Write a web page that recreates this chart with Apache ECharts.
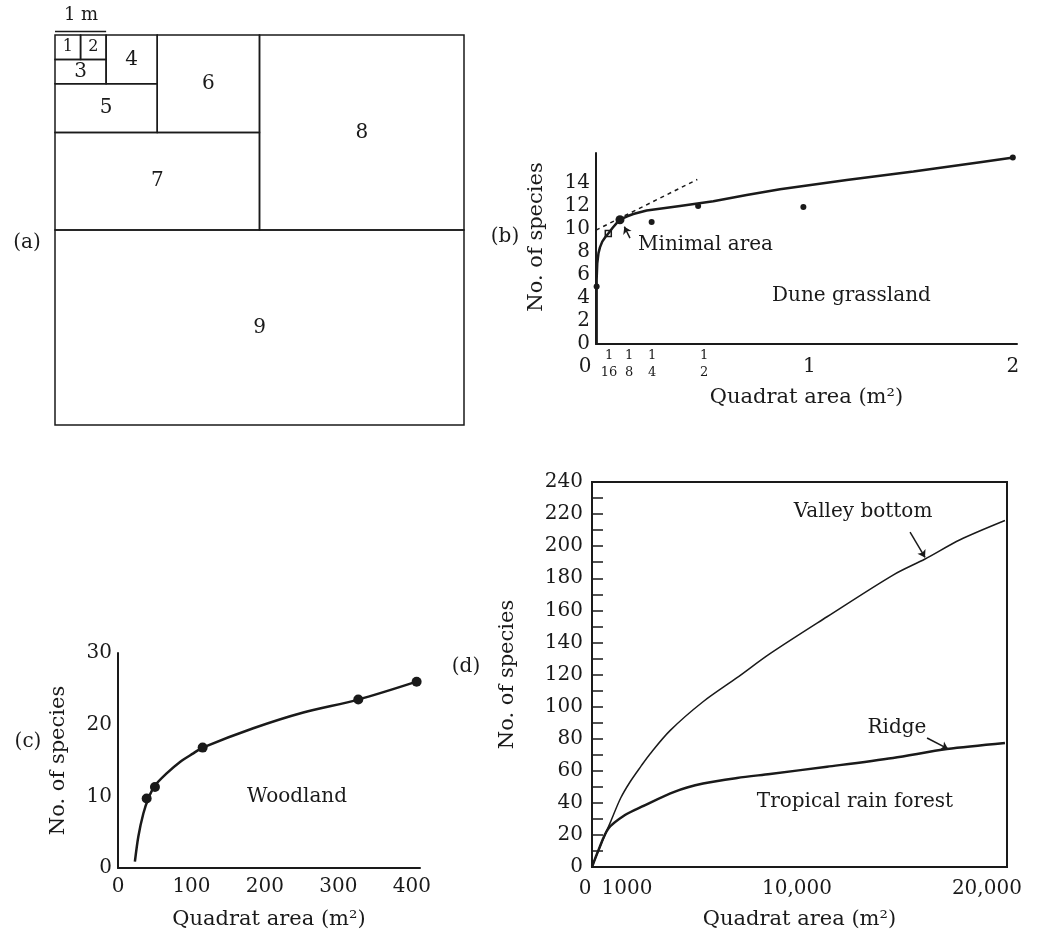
<!DOCTYPE html>
<html>
<head>
<meta charset="utf-8">
<script src="https://cdn.jsdelivr.net/npm/echarts@6/dist/echarts.min.js"></script>
<style>
  html, body { margin: 0; padding: 0; background: #fff; }
  #main { width: 1038px; height: 936px; }
</style>
</head>
<body>
<div id="main"></div>
<script>
// (a) nested quadrats, in metres: [x0, y0, x1, y1]
var quadrats = [
  [0, 0, 0.5, 0.5], [0.5, 0, 1, 0.5], [0, 0.5, 1, 1], [1, 0, 2, 1],
  [0, 1, 2, 2], [2, 0, 4, 2], [0, 2, 4, 4], [4, 0, 8, 4], [0, 4, 8, 8]
];
var quadratNames = ['1', '2', '3', '4', '5', '6', '7', '8', '9'];
var scaleBar = [0, 1];

// (b) dune grassland
var duneCurveX = [0.003, 0.003, 0.006, 0.012, 0.019, 0.03, 0.045, 0.059, 0.08, 0.099, 0.115, 0.15, 0.179, 0.243, 0.403, 0.563, 0.723, 0.883, 1.203, 1.523, 1.843, 2.003];
var duneCurveY = [0, 5.6, 7.0, 7.9, 8.4, 8.9, 9.3, 9.6, 10.1, 10.5, 10.8, 11.1, 11.3, 11.6, 12.0, 12.4, 12.95, 13.45, 14.25, 15.0, 15.8, 16.2];
var duneObsX = [0.003, 0.059, 0.115, 0.267, 0.49, 0.995, 2.0];
var duneObsY = [5, 9.6, 10.8, 10.6, 12.0, 11.9, 16.2];
var tangentX = [0, 0.486];
var tangentY = [9.9, 14.3];
var duneXTicks = [0, 1 / 16, 1 / 8, 1 / 4, 1 / 2, 1, 2];
var duneXTickLabels = ['0', '1/16', '1/8', '1/4', '1/2', '1', '2'];
var duneYTicks = [0, 2, 4, 6, 8, 10, 12, 14];

// (c) woodland
var woodCurveX = [23, 27.7, 34.5, 41.3, 50.3, 66.2, 84.4, 102.5, 115.2, 184.1, 252.2, 327, 406.4];
var woodCurveY = [0.9, 4.4, 7.6, 9.7, 11.5, 13.2, 14.8, 16.0, 16.8, 19.5, 21.7, 23.5, 26.0];
var woodObsX = [39, 50.3, 115.2, 327, 406.4];
var woodObsY = [9.7, 11.3, 16.8, 23.5, 26.0];
var woodXTicks = [0, 100, 200, 300, 400];
var woodYTicks = [0, 10, 20, 30];

// (d) tropical rain forest
var valleyX = [0, 400, 900, 1400, 1855, 2400, 2830, 3807, 5417, 7076, 8687, 11470, 14690, 16250, 17960, 20150];
var valleyY = [0, 13, 28, 43, 53, 63, 70.5, 85, 103, 118, 133, 156, 182, 192, 204, 216];
var ridgeX = [0, 300, 800, 1610, 2425, 4050, 5420, 7080, 8690, 11470, 14690, 17320, 20150];
var ridgeY = [0, 10, 24, 32.4, 37.6, 47, 52, 55.5, 58, 62.5, 68, 73.5, 77.3];
var forestXTicks = [0, 1000, 10000, 20000];
var forestXTickLabels = ['0', '1000', '10,000', '20,000'];

var FONT = 'DejaVu Serif';
var INK = '#1a1a1a';

function zip(xs, ys) {
  return xs.map(function (x, i) { return [x, ys[i]]; });
}
function findIndex(list, v) {
  for (var i = 0; i < list.length; i++) {
    if (Math.abs(list[i] - v) < 1e-9) return i;
  }
  return -1;
}

var myChart = echarts.init(document.getElementById('main'));

var axisLine = { show: true, lineStyle: { color: INK, width: 2 } };
var nameStyle = { fontFamily: FONT, fontSize: 21, color: INK };
var labelStyle = { fontFamily: FONT, fontSize: 20, color: INK };

// small nudges so the crowded fraction labels sit apart as in the print
var duneLabelShift = [22, 0, 14, 8, 8, 10, 0];
var duneRich = {};
duneXTicks.forEach(function (t, i) {
  var sh = duneLabelShift[i];
  duneRich['w' + i] = { fontFamily: FONT, fontSize: 20, color: INK, padding: i === 0 ? [10, sh, 0, 0] : [10, 0, 0, sh] };
  duneRich['n' + i] = { fontFamily: FONT, fontSize: 13, color: INK, lineHeight: 17, padding: [0, 0, 0, sh] };
  duneRich['d' + i] = { fontFamily: FONT, fontSize: 13, color: INK, lineHeight: 17, padding: [0, 0, 0, sh] };
});

var option = {
  backgroundColor: '#fff',
  animation: false,
  textStyle: { fontFamily: FONT, color: INK },
  grid: [
    { left: 55, top: 35, width: 409, height: 390 },
    { left: 596, top: 153, width: 421, height: 191 },
    { left: 118, top: 653, width: 302, height: 215 },
    { left: 592, top: 482, width: 415, height: 385, show: true, borderColor: INK, borderWidth: 2 }
  ],
  xAxis: [
    { gridIndex: 0, type: 'value', min: 0, max: 8, show: false },
    {
      gridIndex: 1, type: 'value', min: 0, max: 2.02,
      axisLine: axisLine, axisTick: { show: false }, splitLine: { show: false },
      axisLabel: {
        customValues: duneXTicks, margin: 3,
        formatter: function (v) {
          var i = findIndex(duneXTicks, v);
          var s = duneXTickLabels[i];
          if (s.indexOf('/') > 0) {
            var p = s.split('/');
            return '{n' + i + '|' + p[0] + '}\n{d' + i + '|' + p[1] + '}';
          }
          return '{w' + i + '|' + s + '}';
        },
        rich: duneRich
      },
      name: 'Quadrat area (m\u00b2)', nameLocation: 'middle', nameGap: 43, nameTextStyle: nameStyle
    },
    {
      gridIndex: 2, type: 'value', min: 0, max: 411,
      axisLine: axisLine, axisTick: { show: false }, splitLine: { show: false },
      axisLabel: Object.assign({ customValues: woodXTicks, margin: 9 }, labelStyle),
      name: 'Quadrat area (m\u00b2)', nameLocation: 'middle', nameGap: 41, nameTextStyle: nameStyle
    },
    {
      gridIndex: 3, type: 'value', min: 0, max: 20250,
      axisLine: axisLine, axisTick: { show: false }, splitLine: { show: false },
      axisLabel: {
        customValues: forestXTicks, margin: 12,
        formatter: function (v) {
          var i = findIndex(forestXTicks, v);
          return '{t' + i + '|' + forestXTickLabels[i] + '}';
        },
        rich: {
          t0: { fontFamily: FONT, fontSize: 20, color: INK, padding: [0, 14, 0, 0] },
          t1: { fontFamily: FONT, fontSize: 20, color: INK, padding: [0, 0, 0, 29] },
          t2: { fontFamily: FONT, fontSize: 20, color: INK },
          t3: { fontFamily: FONT, fontSize: 20, color: INK, padding: [0, 30, 7, 0] }
        }
      },
      name: 'Quadrat area (m\u00b2)', nameLocation: 'middle', nameGap: 42, nameTextStyle: nameStyle
    }
  ],
  yAxis: [
    { gridIndex: 0, type: 'value', min: 0, max: 8, inverse: true, show: false },
    {
      gridIndex: 1, type: 'value', min: 0, max: 16.6,
      axisLine: axisLine, axisTick: { show: false }, splitLine: { show: false },
      axisLabel: Object.assign({ customValues: duneYTicks, margin: 6 }, labelStyle),
      name: 'No. of species', nameLocation: 'middle', nameRotate: 90, nameGap: 49,
      nameTextStyle: Object.assign({ padding: [0, 0, 0, 23] }, nameStyle)
    },
    {
      gridIndex: 2, type: 'value', min: 0, max: 30,
      axisLine: axisLine, axisTick: { show: false }, splitLine: { show: false },
      axisLabel: Object.assign({ customValues: woodYTicks, margin: 6 }, labelStyle),
      name: 'No. of species', nameLocation: 'middle', nameRotate: 90, nameGap: 49, nameTextStyle: nameStyle
    },
    {
      gridIndex: 3, type: 'value', min: 0, max: 240, interval: 20,
      axisLine: axisLine,
      axisTick: { show: true, inside: true, length: 11, lineStyle: { color: INK, width: 1.5 } },
      minorTick: { show: true, splitNumber: 2, length: 11, lineStyle: { color: INK, width: 1.5 } },
      splitLine: { show: false },
      axisLabel: Object.assign({ margin: 9 }, labelStyle),
      name: 'No. of species', nameLocation: 'middle', nameRotate: 90, nameGap: 74, nameTextStyle: nameStyle
    }
  ],
  graphic: [
    { type: 'text', x: 27, y: 243, style: { text: '(a)', font: '20px ' + FONT, fill: INK, align: 'center', verticalAlign: 'middle' } },
    { type: 'text', x: 81, y: 15, style: { text: '1 m', font: '18px ' + FONT, fill: INK, align: 'center', verticalAlign: 'middle' } },
    { type: 'text', x: 505, y: 237, style: { text: '(b)', font: '20px ' + FONT, fill: INK, align: 'center', verticalAlign: 'middle' } },
    { type: 'text', x: 638, y: 245, style: { text: 'Minimal area', font: '20px ' + FONT, fill: INK, align: 'left', verticalAlign: 'middle' } },
    { type: 'text', x: 772, y: 296, style: { text: 'Dune grassland', font: '20px ' + FONT, fill: INK, align: 'left', verticalAlign: 'middle' } },
    { type: 'text', x: 28, y: 742, style: { text: '(c)', font: '20px ' + FONT, fill: INK, align: 'center', verticalAlign: 'middle' } },
    { type: 'text', x: 297, y: 797, style: { text: 'Woodland', font: '20px ' + FONT, fill: INK, align: 'center', verticalAlign: 'middle' } },
    { type: 'text', x: 466, y: 667, style: { text: '(d)', font: '20px ' + FONT, fill: INK, align: 'center', verticalAlign: 'middle' } },
    { type: 'text', x: 863, y: 512, style: { text: 'Valley bottom', font: '20px ' + FONT, fill: INK, align: 'center', verticalAlign: 'middle' } },
    { type: 'text', x: 897, y: 728, style: { text: 'Ridge', font: '20px ' + FONT, fill: INK, align: 'center', verticalAlign: 'middle' } },
    { type: 'text', x: 855, y: 802, style: { text: 'Tropical rain forest', font: '20px ' + FONT, fill: INK, align: 'center', verticalAlign: 'middle' } }
  ],
  series: [
    // (a) quadrats
    {
      type: 'custom', xAxisIndex: 0, yAxisIndex: 0,
      data: quadrats,
      renderItem: function (params, api) {
        var p0 = api.coord([api.value(0), api.value(1)]);
        var p1 = api.coord([api.value(2), api.value(3)]);
        var small = params.dataIndex < 2;
        return {
          type: 'group',
          children: [
            {
              type: 'rect',
              shape: { x: p0[0], y: p0[1], width: p1[0] - p0[0], height: p1[1] - p0[1] },
              style: { fill: 'none', stroke: INK, lineWidth: 1.5 }
            },
            {
              type: 'text',
              x: (p0[0] + p1[0]) / 2, y: (p0[1] + p1[1]) / 2,
              style: {
                text: quadratNames[params.dataIndex],
                font: (small ? '16px ' : '20px ') + FONT,
                fill: INK, align: 'center', verticalAlign: 'middle'
              }
            }
          ]
        };
      }
    },
    {
      type: 'line', xAxisIndex: 0, yAxisIndex: 0, clip: false, symbol: 'none',
      data: scaleBar.map(function (x) { return [x, -0.07]; }),
      lineStyle: { color: INK, width: 1.5 }
    },
    // (b)
    {
      type: 'line', xAxisIndex: 1, yAxisIndex: 1, symbol: 'none',
      data: zip(duneCurveX, duneCurveY),
      lineStyle: { color: INK, width: 2.5 }
    },
    {
      type: 'line', xAxisIndex: 1, yAxisIndex: 1, symbol: 'none',
      data: zip(tangentX, tangentY),
      lineStyle: { color: INK, width: 1.5, type: [4, 4] }
    },
    {
      type: 'scatter', xAxisIndex: 1, yAxisIndex: 1, clip: false,
      data: zip(duneObsX, duneObsY).map(function (d, i) {
        if (i === 1) return { value: d, symbol: 'rect', symbolSize: 6, itemStyle: { color: '#fff', borderColor: INK, borderWidth: 1.5 } };
        if (i === 2) return { value: d, symbolSize: 9 };
        return { value: d, symbolSize: 6 };
      }),
      itemStyle: { color: INK, opacity: 1 }
    },
    {
      type: 'lines', coordinateSystem: 'cartesian2d', xAxisIndex: 1, yAxisIndex: 1,
      symbol: ['none', 'arrow'], symbolSize: 7,
      data: [{ coords: [[0.163, 9.2], [0.136, 10.2]] }],
      lineStyle: { color: INK, width: 1.5, opacity: 1 }
    },
    // (c)
    {
      type: 'line', xAxisIndex: 2, yAxisIndex: 2, symbol: 'none', smooth: 0.3,
      data: zip(woodCurveX, woodCurveY),
      lineStyle: { color: INK, width: 2.5 }
    },
    {
      type: 'scatter', xAxisIndex: 2, yAxisIndex: 2, symbolSize: 10,
      data: zip(woodObsX, woodObsY),
      itemStyle: { color: INK, opacity: 1 }
    },
    // (d)
    {
      type: 'line', xAxisIndex: 3, yAxisIndex: 3, symbol: 'none', smooth: 0.3,
      data: zip(valleyX, valleyY),
      lineStyle: { color: INK, width: 1.5 }
    },
    {
      type: 'line', xAxisIndex: 3, yAxisIndex: 3, symbol: 'none', smooth: 0.3,
      data: zip(ridgeX, ridgeY),
      lineStyle: { color: INK, width: 2.5 }
    },
    {
      type: 'lines', coordinateSystem: 'cartesian2d', xAxisIndex: 3, yAxisIndex: 3,
      symbol: ['none', 'arrow'], symbolSize: 7,
      data: [
        { coords: [[15520, 208.8], [16250, 193]] },
        { coords: [[16350, 80.4], [17375, 73.6]] }
      ],
      lineStyle: { color: INK, width: 1.5, opacity: 1 }
    }
  ]
};

myChart.setOption(option);
window.addEventListener('resize', function () {
  myChart.resize();
});
</script>
</body>
</html>
